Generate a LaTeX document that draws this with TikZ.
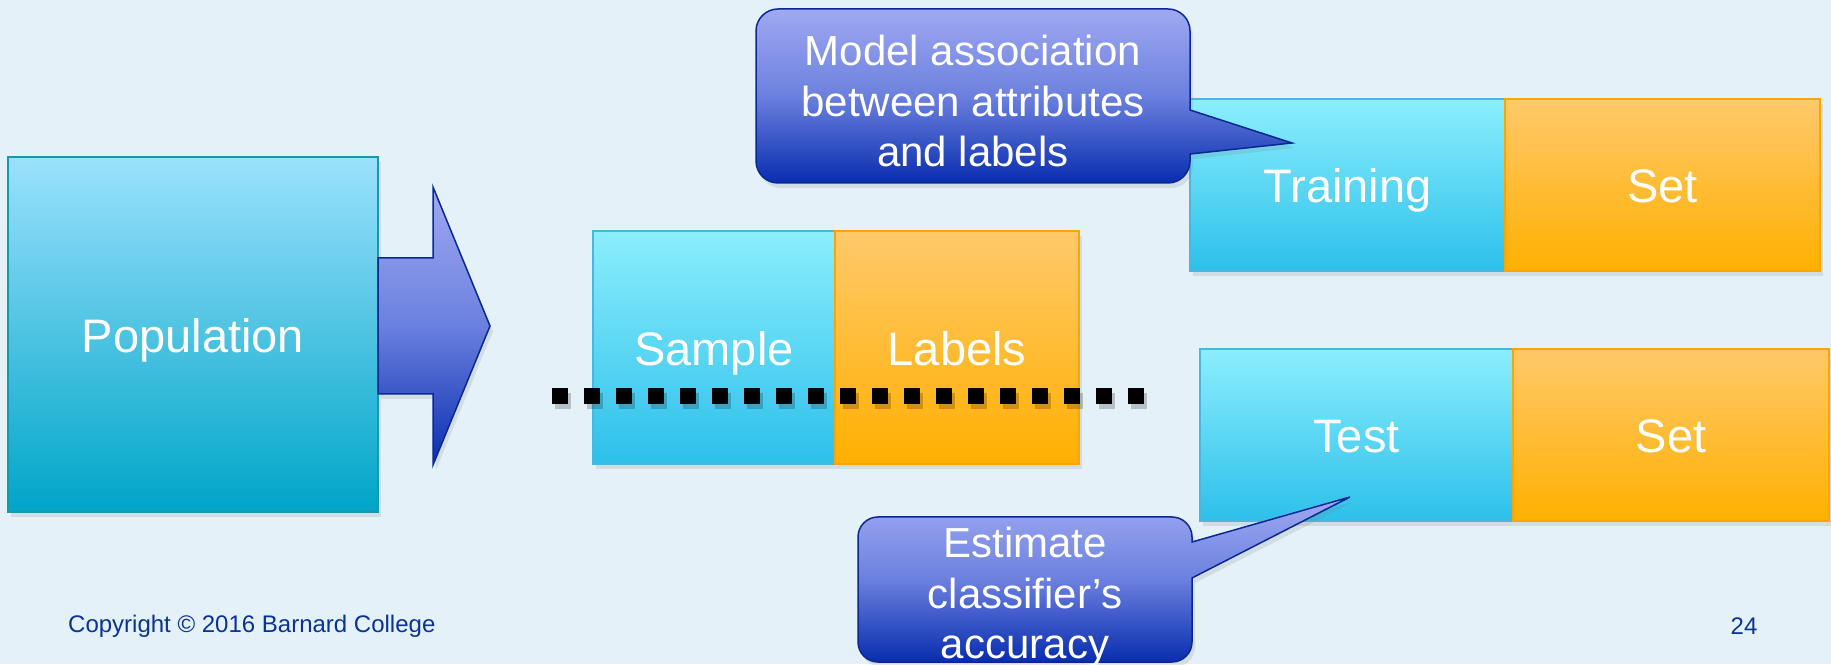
\documentclass[tikz,border=0pt]{standalone}
\usepackage{fontspec}
\setmainfont{Liberation Sans}
\usetikzlibrary{positioning}
\usetikzlibrary{calc}
\usetikzlibrary{shadows}

\definecolor{slidebg}{HTML}{E4F1F9}
\definecolor{cyantop}{HTML}{8CEEFD}
\definecolor{cyanbot}{HTML}{2CC0EA}
\definecolor{cyanline}{HTML}{4DB6DE}
\definecolor{poptop}{HTML}{9BE1FC}
\definecolor{popbot}{HTML}{00A5C8}
\definecolor{popline}{HTML}{1B97AD}
\definecolor{orangetop}{HTML}{FFC96B}
\definecolor{orangebot}{HTML}{FFB000}
\definecolor{orangeline}{HTML}{FFA300}
\definecolor{bubbletop}{HTML}{A0A9F2}
\definecolor{bubblemid}{HTML}{6B80DE}
\definecolor{bubblebot}{HTML}{082DAF}
\definecolor{bubbleline}{HTML}{0A2894}
\definecolor{footblue}{HTML}{0A3399}

\tikzset{
    softshadow/.style={
        drop shadow={opacity=0.18, shadow xshift=3pt, shadow yshift=-5pt}
    },
    setbox/.style={
        rectangle, outer sep=0pt, line width=1.5pt, softshadow,
        text=white, text height=36pt, text depth=0pt,
        font=\fontsize{47}{56}\selectfont
    },
    cyanbox/.style={setbox, draw=cyanline, top color=cyantop, bottom color=cyanbot},
    orangebox/.style={setbox, draw=orangeline, top color=orangetop, bottom color=orangebot},
    popbox/.style={setbox, draw=popline, top color=poptop, bottom color=popbot},
    bubble/.style={
        draw=bubbleline, line width=1.5pt, softshadow,
        top color=bubbletop, bottom color=bubblebot, middle color=bubblemid
    },
    bubblebody/.style={rectangle, inner sep=0pt, outer sep=0pt},
    bubbletext/.style={
        text=white, align=center, inner sep=0pt,
        font=\fontsize{42}{50.5}\selectfont
    },
    cutline/.style={line width=15.5pt, dash pattern=on 16pt off 16pt},
    footer/.style={text=footblue, inner sep=0pt, font=\fontsize{24}{28}\selectfont}
}

\begin{document}
\begin{tikzpicture}[x=1pt, y=1pt]

    \fill[slidebg] (0,0) rectangle (1831,664);
    \useasboundingbox (0,0) rectangle (1831,664);

    % population and its arrow
    \node[popbox, minimum width=370pt, minimum height=355pt] (pop) at (193,329.5) {Population};
    \path[bubble] ([yshift=76.5pt]pop.east) -- ++(55,0) -- ++(0,71) -- ++(57,-139)
        -- ++(-57,-139) -- ++(0,71) -- ([yshift=-59.5pt]pop.east) -- cycle;

    % sample and labels, cut in two
    \node[cyanbox, minimum width=242pt, minimum height=233pt] (sample) at (714,316.5) {Sample};
    \node[orangebox, minimum width=244pt, minimum height=233pt, right=0pt of sample] (labels) {Labels};
    \coordinate (cutl) at ($(sample.west)+(-41,-48.5)$);
    \coordinate (cutr) at ($(labels.east)+(65,-48.5)$);
    \draw[cutline, black, opacity=0.2, transform canvas={shift={(3pt,-5pt)}}] (cutl) -- (cutr);
    \draw[cutline, black] (cutl) -- (cutr);

    % training set
    \node[cyanbox, minimum width=315pt, minimum height=172pt] (train) at (1347.5,479) {Training};
    \node[orangebox, minimum width=315pt, minimum height=172pt, right=0pt of train] (trainset) {Set};

    % test set
    \node[cyanbox, minimum width=313pt, minimum height=172pt] (test) at (1356.5,229) {Test};
    \node[orangebox, minimum width=316pt, minimum height=172pt, right=0pt of test] (testset) {Set};

    % callout on the training set
    \coordinate (traintip) at (1292,521);
    \node[bubblebody, minimum width=434pt, minimum height=174pt] (model) at (973,568) {};
    \path[bubble] (model.north) [rounded corners=22pt] -- (model.north east) [sharp corners]
        -- ([yshift=-14pt]model.east) -- (traintip)
        -- ([yshift=-58pt]model.east) [rounded corners=22pt] -- (model.south east)
        -- (model.south west) -- (model.north west) -- cycle;
    \node[bubbletext] (modeltext) at ([yshift=-5pt]model.center) {Model association\\between attributes\\and labels};

    % callout on the test set
    \coordinate (testtip) at (1350,167);
    \node[bubblebody, minimum width=334pt, minimum height=145pt] (est) at (1025,74.5) {};
    \path[bubble] (est.north) [rounded corners=20pt] -- (est.north east) [sharp corners]
        -- ([yshift=47.5pt]est.east) -- (testtip)
        -- ([yshift=11.5pt]est.east) [rounded corners=20pt] -- (est.south east)
        -- (est.south west) -- (est.north west) -- cycle;
    \node[bubbletext] (esttext) at ([yshift=-8pt]est.center) {Estimate\\classifier’s\\accuracy};

    % footer
    \node[footer, anchor=base west] (copyright) at (68,31) {Copyright © 2016 Barnard College};
    \node[footer, anchor=base] (slidenum) at (1744,30) {24};

\end{tikzpicture}
\end{document}
